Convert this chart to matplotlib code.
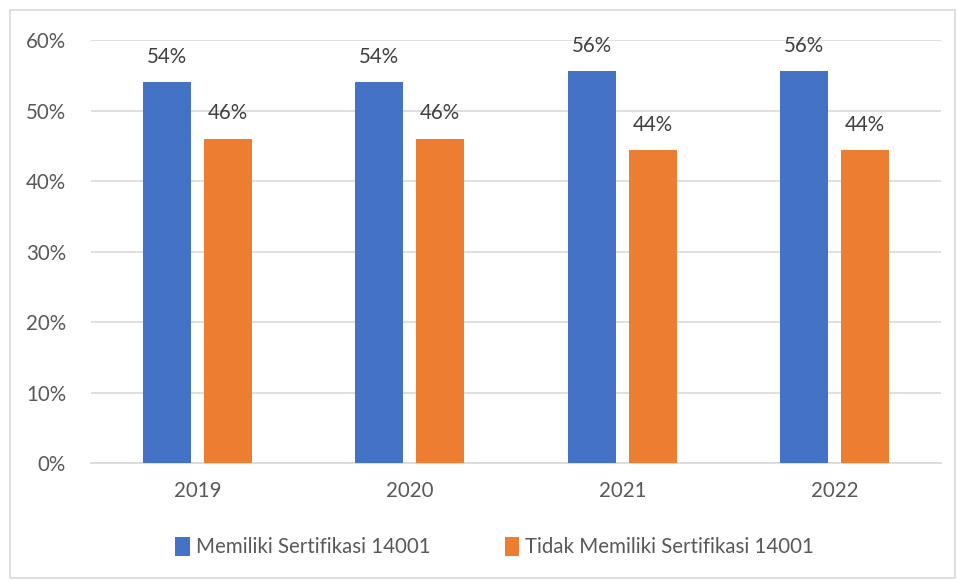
import numpy as np
import matplotlib
matplotlib.use('Agg')
import matplotlib.pyplot as plt
from matplotlib.patches import Rectangle
from matplotlib.ticker import FuncFormatter

years = ['2019', '2020', '2021', '2022']
memiliki = [54.0, 54.0, 55.6, 55.6]
tidak_memiliki = [46.0, 46.0, 44.4, 44.4]
series_names = ['Memiliki Sertifikasi 14001', 'Tidak Memiliki Sertifikasi 14001']
colors = ['#4472C4', '#ED7D31']

plt.rcParams['font.family'] = ['Lato', 'DejaVu Sans']
fs = 14.8

fig = plt.figure(figsize=(9.57, 5.80), dpi=100)
ax = fig.add_axes([0.0951, 0.2017, 0.9833 - 0.0951, 0.931 - 0.2017])

# chart area border
fig.patches.append(Rectangle((10 / 957, 2 / 580), 945 / 957, 568 / 580,
                             transform=fig.transFigure, fill=False,
                             edgecolor='#D9D9D9', linewidth=1.2))

x = np.arange(len(years))
width = 0.226
offset = 0.143

for vals, off, col, name in zip([memiliki, tidak_memiliki], [-offset, offset], colors, series_names):
    bars = ax.bar(x + off, vals, width, color=col, label=name, zorder=3)
    for b, v in zip(bars, vals):
        ax.annotate(f'{round(v):.0f}%', (b.get_x() + b.get_width() / 2, v),
                    xytext=(0, 11), textcoords='offset points',
                    ha='center', va='bottom', fontsize=fs, color='#404040')

ax.set_xlim(-0.5, len(years) - 0.5)
ax.set_ylim(0, 60)
ax.set_yticks(np.arange(0, 61, 10))
ax.yaxis.set_major_formatter(FuncFormatter(lambda v, p: f'{v:.0f}%'))
ax.set_xticks(x)
ax.set_xticklabels(years)
ax.tick_params(axis='both', length=0, labelsize=fs, labelcolor='#595959')
ax.tick_params(axis='x', pad=13)
ax.tick_params(axis='y', pad=18)
ax.grid(axis='y', color='#D9D9D9', linewidth=1.2, zorder=0)
for s in ['top', 'right', 'left']:
    ax.spines[s].set_visible(False)
ax.spines['bottom'].set_color('#D9D9D9')
ax.spines['bottom'].set_linewidth(1.2)

fig.legend(loc='center', bbox_to_anchor=(0.517, 1 - 547 / 580), ncol=2, frameon=False,
           fontsize=fs, labelcolor='#595959', handlelength=0.7, handleheight=1.1,
           handletextpad=0.3, columnspacing=3.6)

fig.savefig('out.png', dpi=100)
